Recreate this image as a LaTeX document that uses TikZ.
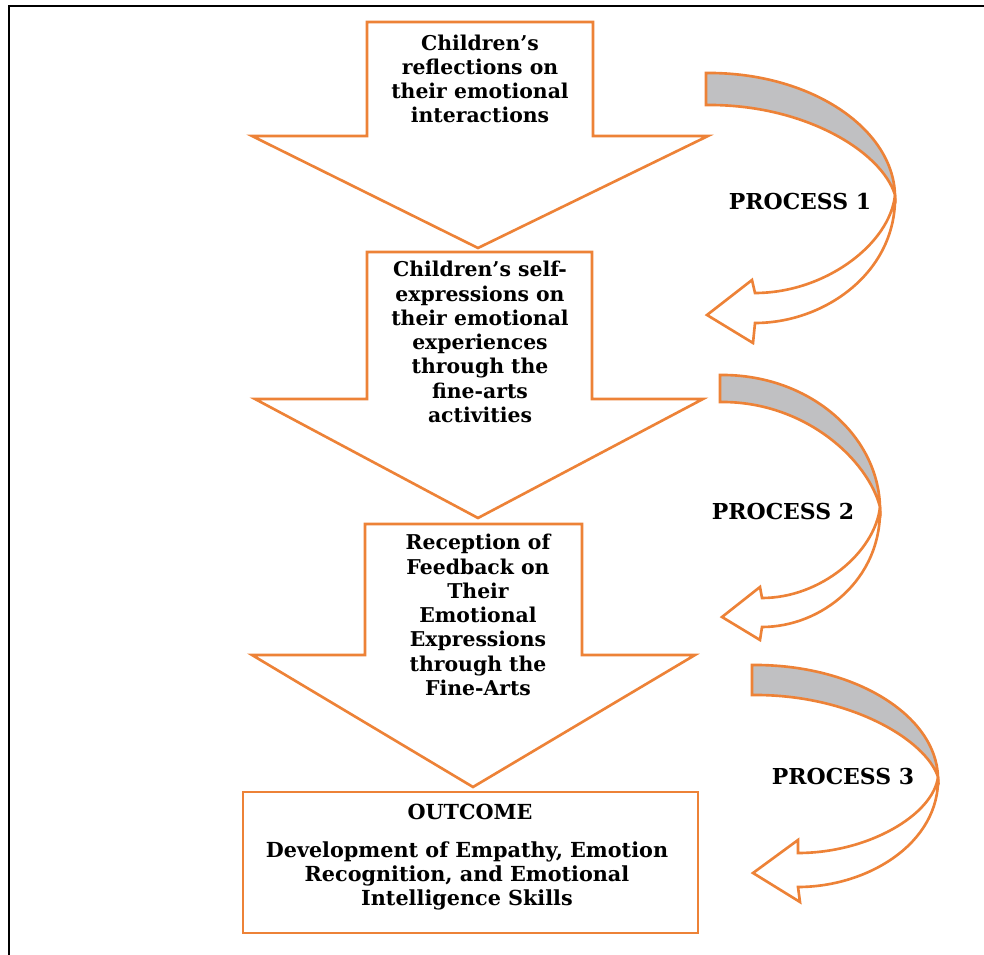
\documentclass[tikz,border=0pt]{standalone}
\usepackage{fontspec}
\setmainfont{DejaVu Serif}
\definecolor{ofr}{RGB}{237,130,55}
\definecolor{bandgray}{RGB}{192,192,194}
\tikzset{
  shapeline/.style={draw=ofr, line width=1.5pt, line join=miter, fill=white},
  grayband/.style={draw=ofr, line width=1.5pt, fill=bandgray},
  boxtext/.style={align=center, font=\fontsize{11.6}{13.8}\selectfont\bfseries, inner sep=0pt},
  outtext/.style={align=center, font=\fontsize{11.8}{13.6}\selectfont\bfseries, inner sep=0pt},
  proclabel/.style={font=\fontsize{12.5}{14}\selectfont\bfseries, inner sep=0pt},
  framestroke/.style={draw=black, line width=1.3pt}
}
\begin{document}
\begin{tikzpicture}[x=0.02cm, y=-0.02cm]
\useasboundingbox (0,0) rectangle (984,955);
% frame
\draw[framestroke] (984,6) -- (9,6) -- (9,955);

% big down arrows
\draw[shapeline] (367,22) -- (593,22) -- (593,136) -- (708,136) -- (478,248) -- (252,136) -- (367,136) -- cycle;
\draw[shapeline] (367,252) -- (592,252) -- (592,399) -- (703,399) -- (478,518) -- (255,399) -- (367,399) -- cycle;
\draw[shapeline] (365,524) -- (582,524) -- (582,655) -- (695,655) -- (473,787) -- (252,655) -- (365,655) -- cycle;

% outcome box
\node[shapeline, minimum width=455*0.02cm, minimum height=141*0.02cm, inner sep=0pt] (outbox) at (470.5,862.5) {};

% texts
\node[boxtext] (t1) at (480,79) {Children’s\\reflections on\\their emotional\\interactions};
\node[boxtext] (t2) at (480,342) {Children’s self-\\expressions on\\their emotional\\experiences\\through the\\fine-arts\\activities};
\node[boxtext] (t3) at (478,615) {Reception of\\Feedback on\\Their\\Emotional\\Expressions\\through the\\Fine-Arts};
\node[outtext] (t4) at (470,812) {OUTCOME};
\node[outtext] (t5) at (467,876) {Development of Empathy, Emotion\\Recognition, and Emotional\\Intelligence Skills};

% curved arrow 1
\draw[shapeline] (895,195) .. controls (897,272) and (825,323) .. (755,323) -- (753,343) -- (707,315) -- (752,280) -- (755,293) .. controls (825,293) and (890,244) .. (895,195) -- cycle;
\draw[grayband] (706,73) .. controls (810,72) and (893,128) .. (895,195) .. controls (882,152) and (805,104) .. (706,105) -- cycle;
\node[proclabel] (p1) at (800,202) {PROCESS 1};

% curved arrow 2
\draw[shapeline] (880,507) .. controls (882,580) and (821,627) .. (762,627) -- (760,640) -- (722,617) -- (760,587) -- (762,598) .. controls (821,598) and (875,552) .. (880,507) -- cycle;
\draw[grayband] (720,375) .. controls (808,374) and (878,434) .. (880,507) .. controls (868,460) and (805,401) .. (720,402) -- cycle;
\node[proclabel] (p2) at (783,512) {PROCESS 2};

% curved arrow 3
\draw[shapeline] (938,777) .. controls (940,843) and (868,887) .. (798,887) -- (800,902) -- (753,873) -- (798,840) -- (798,853) .. controls (868,853) and (933,815) .. (938,777) -- cycle;
\draw[grayband] (752,665) .. controls (854,664) and (936,715) .. (938,777) .. controls (926,740) and (850,694) .. (752,695) -- cycle;
\node[proclabel] (p3) at (843,777) {PROCESS 3};
\end{tikzpicture}
\end{document}
